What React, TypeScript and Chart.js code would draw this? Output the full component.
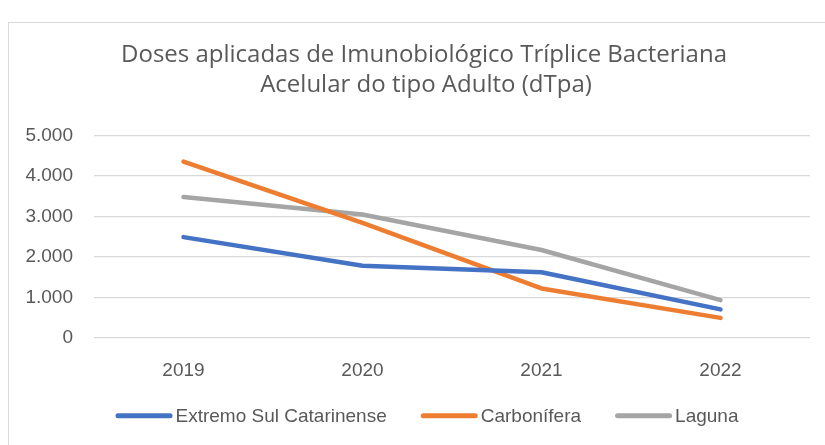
import React, { useEffect, useRef } from "react";
import { Chart, registerables } from "chart.js";

Chart.register(...registerables);

const categories = ["2019", "2020", "2021", "2022"];
const seriesNames = ["Extremo Sul Catarinense", "Carbonífera", "Laguna"];
const extremoSul = [2490, 1780, 1620, 700];
const carbonifera = [4360, 2840, 1220, 490];
const laguna = [3480, 3050, 2170, 930];
const seriesColors = ["#4472C4", "#ED7D31", "#A5A5A5"];
const titleLines = [
  "Doses aplicadas de Imunobiológico Tríplice Bacteriana",
  "Acelular do tipo Adulto (dTpa)",
];
const yMax = 5000;
const yStep = 1000;

const FONT = "'Liberation Sans', Arial, sans-serif";
const TITLE_FONT = "'Open Sans', 'Liberation Sans', sans-serif";
const TEXT = "#595959";

function fmt(v: number): string {
  const s = Math.round(v).toString();
  return s.replace(/\B(?=(\d{3})+(?!\d))/g, ".");
}

const decorPlugin = {
  id: "decor",
  afterDraw(chart: any) {
    const ctx = chart.ctx as CanvasRenderingContext2D;
    ctx.save();
    // Title
    ctx.fillStyle = TEXT;
    ctx.font = `24px ${TITLE_FONT}`;
    ctx.textAlign = "center";
    ctx.textBaseline = "alphabetic";
    ctx.fillText(titleLines[0], 424, 61.5);
    ctx.fillText(titleLines[1], 426, 91.5);
    // Legend
    ctx.font = `19px ${FONT}`;
    ctx.textAlign = "left";
    const lineLen = 57;
    const gap = 3;
    const itemGap = 34;
    const widths = chart.data.datasets.map((d: any) => ctx.measureText(d.label).width);
    const total =
      widths.reduce((a: number, b: number) => a + b, 0) +
      widths.length * (lineLen + gap) +
      (widths.length - 1) * itemGap;
    let x = 427 - total / 2;
    const yLine = 415.7;
    chart.data.datasets.forEach((d: any, i: number) => {
      ctx.strokeStyle = d.borderColor;
      ctx.lineWidth = 5;
      ctx.lineCap = "round";
      ctx.beginPath();
      ctx.moveTo(x + 2.5, yLine);
      ctx.lineTo(x + lineLen - 2.5, yLine);
      ctx.stroke();
      x += lineLen + gap;
      ctx.fillStyle = TEXT;
      ctx.fillText(d.label, x, 422);
      x += widths[i] + itemGap;
    });
    ctx.restore();
  },
};

export default function App() {
  const ref = useRef<HTMLCanvasElement | null>(null);
  useEffect(() => {
    if (!ref.current) return;
    const values = [extremoSul, carbonifera, laguna];
    const chart = new Chart(ref.current, {
      type: "line",
      data: {
        labels: categories,
        datasets: seriesNames.map((name, i) => ({
          label: name,
          data: values[i],
          borderColor: seriesColors[i],
          backgroundColor: seriesColors[i],
          borderWidth: 4.5,
          pointRadius: 0,
          pointHoverRadius: 0,
          borderJoinStyle: "round" as const,
          borderCapStyle: "round" as const,
          tension: 0,
        })),
      },
      options: {
        animation: false,
        responsive: true,
        maintainAspectRatio: false,
        layout: { padding: { left: 0, right: 15, top: 135.7, bottom: 0 } },
        plugins: {
          legend: { display: false },
          title: { display: false },
          tooltip: { enabled: false },
        },
        scales: {
          x: {
            offset: true,
            grid: { display: false },
            border: { display: false },
            ticks: {
              color: TEXT,
              font: { family: FONT, size: 19 },
              padding: 14,
              maxRotation: 0,
            },
            afterFit(scale: any) {
              scale.height = 107.3;
            },
          },
          y: {
            min: 0,
            max: yMax,
            grid: { color: "#d9d9d9", lineWidth: 1.3, drawTicks: false },
            border: { display: false },
            ticks: {
              stepSize: yStep,
              color: TEXT,
              font: { family: FONT, size: 19 },
              padding: 21,
              callback: (v: any) => fmt(Number(v)),
            },
            afterFit(scale: any) {
              scale.width = 94;
            },
          },
        },
      },
      plugins: [decorPlugin],
    });
    return () => chart.destroy();
  }, []);

  return (
    <div
      style={{
        position: "fixed",
        left: 0,
        top: 0,
        width: 825,
        height: 445,
        overflow: "hidden",
        background: "#ffffff",
      }}
    >
      <div
        style={{
          position: "absolute",
          left: 8,
          top: 22,
          width: 900,
          height: 500,
          border: "1px solid #d9d9d9",
        }}
      />
      <canvas ref={ref} style={{ position: "absolute", left: 0, top: 0 }} />
    </div>
  );
}
